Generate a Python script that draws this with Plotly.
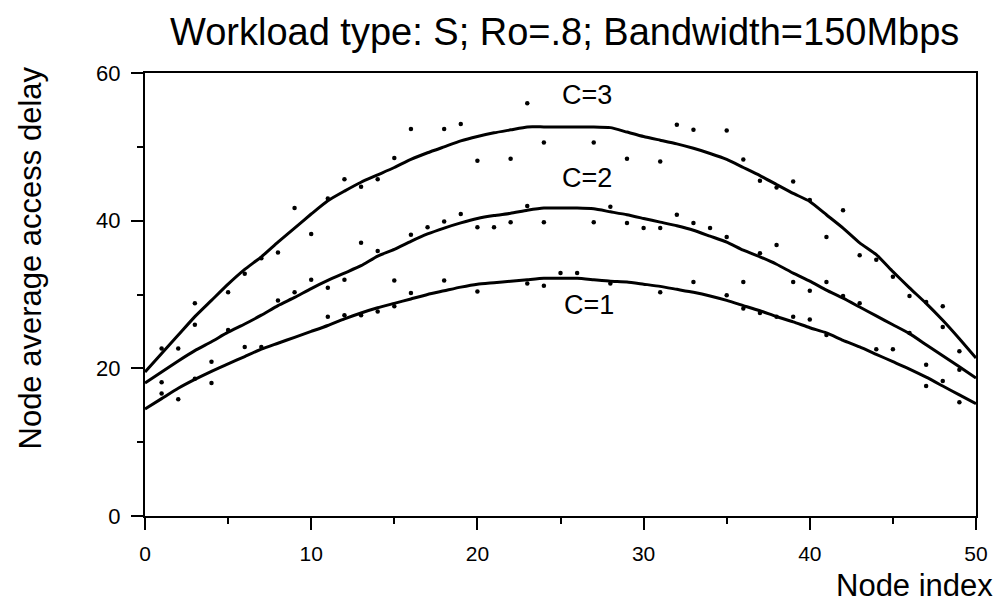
import plotly.graph_objects as go

# ---- data ----
node_index = list(range(0, 51))

curve_c1 = [14.5, 15.9, 17.3, 18.5, 19.6, 20.6, 21.6, 22.6, 23.4, 24.2,
            25.0, 25.8, 26.7, 27.5, 28.2, 28.8, 29.4, 30.0, 30.5, 31.0,
            31.4, 31.6, 31.8, 32.0, 32.2, 32.2, 32.2, 32.0, 31.8, 31.7,
            31.4, 31.1, 30.7, 30.3, 29.8, 29.2, 28.5, 27.8, 27.0, 26.3,
            25.5, 24.8, 23.8, 22.9, 21.9, 20.9, 19.9, 18.8, 17.6, 16.4, 15.2]

curve_c2 = [18.0, 19.5, 21.0, 22.4, 23.6, 24.9, 26.0, 27.2, 28.5, 29.6,
            30.8, 31.9, 32.9, 33.9, 35.2, 36.1, 37.2, 38.2, 39.0, 39.7,
            40.3, 40.7, 41.0, 41.4, 41.7, 41.7, 41.7, 41.6, 41.2, 40.8,
            40.3, 39.8, 39.3, 38.7, 37.9, 37.1, 36.0, 35.1, 34.1, 32.9,
            31.8, 30.6, 29.5, 28.3, 27.1, 25.9, 24.7, 23.2, 21.7, 20.2, 18.7]

curve_c3 = [19.5, 22.0, 24.5, 27.0, 29.2, 31.4, 33.4, 35.1, 37.1, 39.0,
            40.9, 42.7, 44.0, 45.2, 46.2, 47.2, 48.3, 49.2, 50.0, 50.8,
            51.4, 51.9, 52.3, 52.7, 52.7, 52.7, 52.7, 52.7, 52.6, 52.0,
            51.4, 50.9, 50.4, 49.8, 49.1, 48.3, 47.2, 46.1, 44.9, 43.7,
            42.6, 40.8, 39.0, 37.0, 35.4, 33.1, 30.9, 28.8, 26.5, 24.0, 21.4]

# simulated sample points (dots)
dots_c3_x = [1, 2, 3, 5, 6, 7, 8, 9, 10, 11, 12, 13, 14, 15, 16, 18, 19, 20, 22,
             23, 24, 27, 29, 31, 32, 33, 35, 36, 37, 38, 39, 40, 41, 42, 43, 44,
             45, 46, 47, 48, 48, 49]
dots_c3_y = [22.7, 22.7, 28.8, 30.3, 32.8, 34.9, 35.7, 41.7, 38.2, 43.0, 45.6,
             44.6, 45.6, 48.5, 52.4, 52.4, 53.1, 48.1, 48.4, 55.9, 50.6, 50.6,
             48.4, 48.0, 53.0, 52.3, 52.2, 48.3, 45.4, 44.5, 45.3, 42.8, 37.8,
             41.4, 35.3, 34.7, 32.4, 29.8, 29.0, 28.4, 25.6, 22.3]

dots_c2_x = [1, 3, 4, 5, 6, 8, 9, 10, 11, 12, 13, 14, 15, 16, 17, 18, 19, 20,
             21, 22, 23, 24, 27, 28, 29, 30, 31, 32, 33, 34, 35, 36, 37, 38,
             39, 40, 41, 42, 43, 46, 47, 49]
dots_c2_y = [18.1, 25.9, 20.9, 25.2, 22.9, 29.2, 30.3, 32.0, 30.9, 32.0, 37.0,
             35.9, 31.9, 38.1, 39.1, 39.9, 40.9, 39.1, 39.1, 39.8, 42.0, 39.8,
             39.8, 41.9, 39.7, 39.0, 39.0, 40.8, 39.7, 39.0, 37.8, 31.7, 35.6,
             36.7, 31.7, 30.5, 31.7, 29.8, 28.8, 24.8, 20.5, 19.8]

dots_c1_x = [1, 2, 3, 4, 7, 11, 12, 13, 14, 15, 16, 18, 20, 23, 24, 25, 26,
             28, 31, 33, 35, 36, 37, 38, 39, 40, 41, 44, 45, 47, 48, 49]
dots_c1_y = [16.6, 15.8, 18.6, 18.0, 22.9, 27.0, 27.2, 27.2, 27.7, 28.4, 30.2,
             31.9, 30.4, 31.5, 31.2, 32.9, 32.9, 31.5, 30.3, 31.7, 29.9, 28.1,
             27.5, 27.0, 27.0, 26.6, 24.5, 22.6, 22.6, 17.6, 18.3, 15.4]

curve_labels = ["C=3", "C=2", "C=1"]
label_x = [26.6, 26.6, 26.7]
label_y = [57.0, 45.8, 28.6]

x_ticks = [0, 10, 20, 30, 40, 50]
y_ticks = [0, 20, 40, 60]

title_text = "Workload type: S; Ro=.8; Bandwidth=150Mbps"
x_title = "Node index"
y_title = "Node average access delay"

FONT = "Liberation Sans, Arial, Helvetica, sans-serif"

fig = go.Figure()

for xs, ys in [(dots_c3_x, dots_c3_y), (dots_c2_x, dots_c2_y), (dots_c1_x, dots_c1_y)]:
    fig.add_trace(go.Scatter(x=xs, y=ys, mode="markers",
                             marker=dict(color="black", size=4.5),
                             showlegend=False, hoverinfo="skip"))

for ys in [curve_c3, curve_c2, curve_c1]:
    fig.add_trace(go.Scatter(x=node_index, y=ys, mode="lines",
                             line=dict(color="black", width=3, shape="spline", smoothing=0.5),
                             showlegend=False))

for t, lx, ly in zip(curve_labels, label_x, label_y):
    fig.add_annotation(x=lx, y=ly, xref="x", yref="y", text=t, showarrow=False,
                       font=dict(family=FONT, size=27, color="black"))

# titles
fig.add_annotation(x=0.505, y=1.093, xref="paper", yref="paper", text=title_text,
                   showarrow=False, xanchor="center", yanchor="middle",
                   font=dict(family=FONT, size=38, color="black"))
fig.add_annotation(x=1.023, y=-0.158, xref="paper", yref="paper", text=x_title,
                   showarrow=False, xanchor="right", yanchor="middle",
                   font=dict(family=FONT, size=31, color="black"))
fig.add_annotation(x=-0.138, y=0.582, xref="paper", yref="paper", text=y_title,
                   showarrow=False, textangle=-90, xanchor="center", yanchor="middle",
                   font=dict(family=FONT, size=31, color="black"))

fig.update_xaxes(range=[0, 50], tickvals=x_ticks, ticktext=[str(v) for v in x_ticks],
                 ticks="outside", ticklen=12, tickwidth=2, tickcolor="black",
                 minor=dict(dtick=5, ticks="outside", ticklen=6, tickwidth=2, tickcolor="black"),
                 showline=True, linewidth=2, linecolor="black", mirror=True,
                 showgrid=False, zeroline=False, ticklabelstandoff=6,
                 tickfont=dict(family=FONT, size=21, color="black"))
fig.update_yaxes(range=[0, 60], tickvals=y_ticks, ticktext=[str(v) for v in y_ticks],
                 ticks="outside", ticklen=12, tickwidth=2, tickcolor="black",
                 minor=dict(dtick=10, ticks="outside", ticklen=6, tickwidth=2, tickcolor="black"),
                 showline=True, linewidth=2, linecolor="black", mirror=True,
                 showgrid=False, zeroline=False, ticklabelstandoff=6,
                 tickfont=dict(family=FONT, size=22, color="black"))

fig.update_layout(width=1000, height=614, margin=dict(l=145, r=24, t=73, b=98),
                  plot_bgcolor="white", paper_bgcolor="white",
                  font=dict(family=FONT, color="black"))

fig.write_html("out.html")
